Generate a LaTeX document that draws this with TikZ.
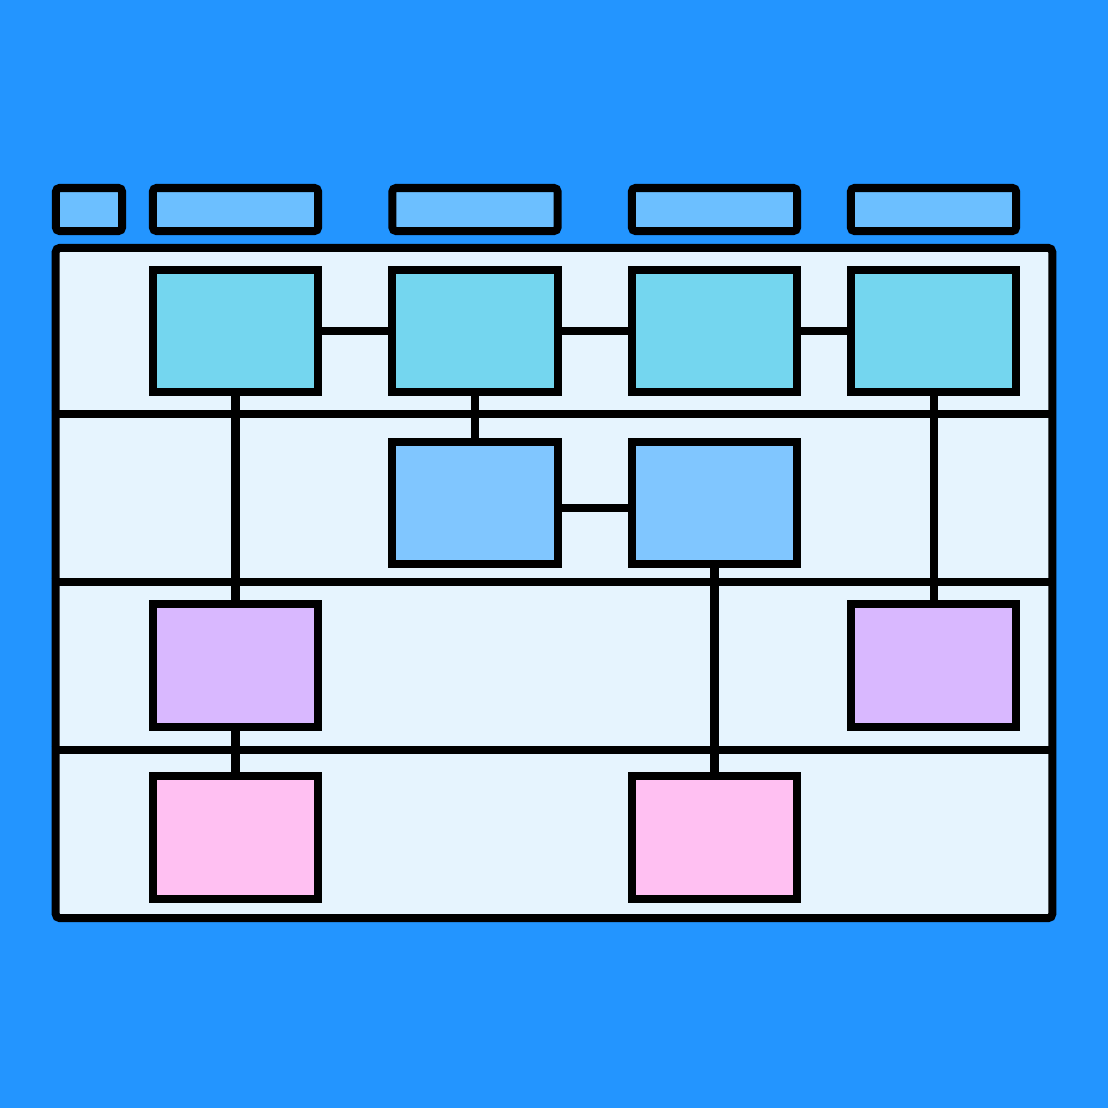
\documentclass[tikz,border=0pt]{standalone}
\usepackage{tikz}
\usetikzlibrary{positioning}
\definecolor{bgblue}{HTML}{2395FF}
\definecolor{tabblue}{HTML}{6CBFFF}
\definecolor{panel}{HTML}{E6F4FE}
\definecolor{cyanbox}{HTML}{74D6EF}
\definecolor{bluebox}{HTML}{80C6FF}
\definecolor{lilacbox}{HTML}{D9B8FF}
\definecolor{pinkbox}{HTML}{FFC0F2}
\tikzstyle{tab_node} = [
    rectangle,
    rounded corners=1pt,
    draw=black,
    fill=tabblue,
    line width=0.08cm,
    inner sep=0pt,
    minimum width=1.65cm,
    minimum height=0.43cm
]
\tikzstyle{lane_box} = [
    rectangle,
    draw=black,
    line width=0.08cm,
    inner sep=0pt,
    minimum width=1.65cm, % 165px wide
    minimum height=1.22cm
]
\tikzstyle{link} = [
    line width=0.08cm
]
\begin{document}
\begin{tikzpicture}[x=0.01cm, y=-0.01cm]
\fill[bgblue] (0,0) rectangle (1108,1108);
\useasboundingbox (0,0) rectangle (1108,1108);
% column tabs
\node [tab_node, minimum width=0.66cm] (tab0) at (89,209.5) {};
\node [tab_node] (tab1) at (235.5,209.5) {};
\node [tab_node] (tab2) at (475,209.5) {};
\node [tab_node] (tab3) at (714.5,209.5) {};
\node [tab_node] (tab4) at (933.5,209.5) {};
% swimlane frame
\node [draw=black, fill=panel, line width=0.08cm, rounded corners=1.2pt,
    inner sep=0pt, minimum width=9.96cm, minimum height=6.70cm] (frame) at (554,583) {};
\foreach \y in {414, 582, 750}
    \draw [link] (frame.west |- 0,\y) -- (frame.east |- 0,\y);
% boxes
\node [lane_box, fill=cyanbox] (a1) at (235.5,331) {};
\node [lane_box, fill=cyanbox] (a2) at (475,331) {};
\node [lane_box, fill=cyanbox] (a3) at (714.5,331) {};
\node [lane_box, fill=cyanbox] (a4) at (933.5,331) {};
\node [lane_box, fill=bluebox] (b2) at (475,503) {};
\node [lane_box, fill=bluebox] (b3) at (714.5,503) {};
\node [lane_box, fill=lilacbox] (c1) at (235.5,665.5) {};
\node [lane_box, fill=lilacbox] (c4) at (933.5,665.5) {};
\node [lane_box, fill=pinkbox] (d1) at (235.5,837.5) {};
\node [lane_box, fill=pinkbox] (d3) at (714.5,837.5) {};
% connectors
\draw [link] (a1) -- (a2);
\draw [link] (a2) -- (a3);
\draw [link] (a3) -- (a4);
\draw [link] ([yshift=-0.05cm]b2.east) -- ([yshift=-0.05cm]b3.west);
\draw [link] (a1) -- (c1);
\draw [link] (c1) -- (d1);
\draw [link] (a2) -- (b2);
\draw [link] (b3) -- (d3);
\draw [link] (a4) -- (c4);
\end{tikzpicture}
\end{document}
